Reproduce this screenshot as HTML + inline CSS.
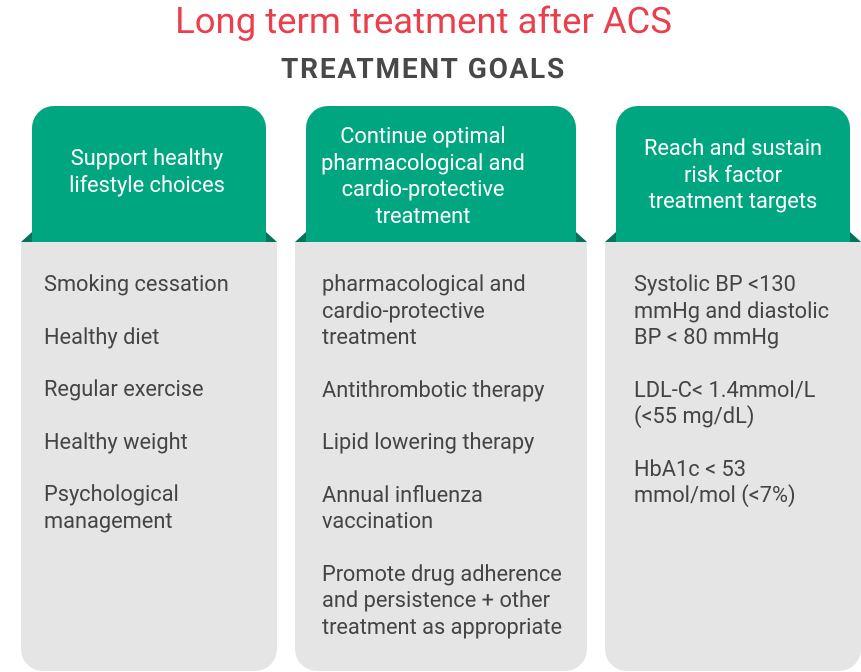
<!DOCTYPE html>
<html><head><meta charset="utf-8"><style>
body{margin:0;width:861px;height:672px;background:#fff;position:relative;overflow:hidden;font-family:"Roboto","Liberation Sans",sans-serif}
.t{position:absolute;white-space:nowrap;line-height:1}
.tab{position:absolute;top:106px;height:136px;background:#00a680;border-radius:22px 22px 0 0}
.box{position:absolute;top:242px;height:429px;background:#e5e5e5;border-radius:0 0 22px 22px}
.tri{position:absolute;top:232px;width:0;height:0;border-bottom:10px solid #00745a}
.tl{border-left:11px solid transparent}
.tr{border-right:11px solid transparent}
.h{position:absolute;color:#fff;font-size:21.8px;text-align:center;line-height:26.5px;white-space:nowrap}
.b{position:absolute;color:#444;font-size:21.8px;line-height:26.5px;white-space:nowrap}
.b div{margin-bottom:26px}
</style></head><body>
<div class="t" style="left:0;width:847px;text-align:center;top:3px;font-size:36.5px;color:#ea3f4c">Long term treatment after ACS</div>
<div class="t" style="left:0;width:847px;text-align:center;top:55px;font-size:28px;font-weight:bold;letter-spacing:1.8px;color:#484848">TREATMENT GOALS</div>

<div class="tri tl" style="left:21px"></div><div class="tri tr" style="left:266px"></div>
<div class="tab" style="left:32px;width:234px"></div>
<div class="box" style="left:21px;width:256px"></div>
<div class="h" style="left:30px;width:234px;top:146px">Support healthy<br>lifestyle choices</div>
<div class="b" style="left:44px;top:272px">
<div>Smoking cessation</div><div>Healthy diet</div><div>Regular exercise</div><div>Healthy weight</div><div>Psychological<br>management</div></div>

<div class="tri tl" style="left:295px"></div><div class="tri tr" style="left:576px"></div>
<div class="tab" style="left:306px;width:270px"></div>
<div class="box" style="left:295px;width:292px"></div>
<div class="h" style="left:288px;top:124px;width:270px">Continue optimal<br>pharmacological and<br>cardio-protective<br>treatment</div>
<div class="b" style="left:322px;top:272px">
<div>pharmacological and<br>cardio-protective<br>treatment</div><div>Antithrombotic therapy</div><div>Lipid lowering therapy</div><div>Annual influenza<br>vaccination</div><div>Promote drug adherence<br>and persistence + other<br>treatment as appropriate</div></div>

<div class="tri tl" style="left:605px"></div><div class="tri tr" style="left:850px"></div>
<div class="tab" style="left:616px;width:234px"></div>
<div class="box" style="left:605px;width:256px"></div>
<div class="h" style="left:616px;width:234px;top:136px">Reach and sustain<br>risk factor<br>treatment targets</div>
<div class="b" style="left:634px;top:272px">
<div>Systolic BP &lt;130<br>mmHg and diastolic<br>BP &lt; 80 mmHg</div><div>LDL-C&lt; 1.4mmol/L<br>(&lt;55 mg/dL)</div><div>HbA1c &lt; 53<br>mmol/mol (&lt;7%)</div></div>
</body></html>
